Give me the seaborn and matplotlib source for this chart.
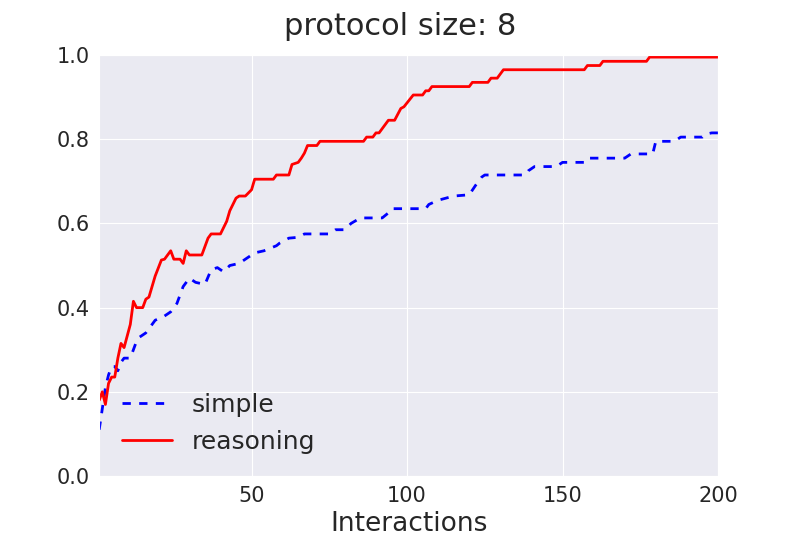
import numpy as np
import pandas as pd
import matplotlib
matplotlib.use("Agg")
import matplotlib.pyplot as plt
import seaborn as sns

# knots of the two accuracy curves (interaction, accuracy)
simple_x = [1, 2, 3, 4, 5, 6, 7, 8, 9, 11, 12, 13, 14, 16, 17, 19, 22, 24, 25, 26,
            28, 30, 32, 35, 37, 39, 41, 43, 46, 47, 50, 51, 54, 58, 59, 62, 65, 67,
            75, 77, 80, 82, 85, 92, 94, 95, 106, 107, 110, 114, 115, 120, 122, 124,
            125, 138, 139, 141, 148, 150, 157, 158, 170, 172, 179, 180, 186, 188,
            195, 196, 198, 200]
simple_y = [0.11, 0.16, 0.21, 0.24, 0.26, 0.26, 0.25, 0.27, 0.28, 0.28, 0.30, 0.32,
            0.33, 0.34, 0.35, 0.37, 0.38, 0.39, 0.40, 0.41, 0.45, 0.47, 0.46, 0.455,
            0.49, 0.495, 0.485, 0.50, 0.505, 0.51, 0.525, 0.53, 0.535, 0.547, 0.553,
            0.565, 0.567, 0.575, 0.575, 0.585, 0.585, 0.60, 0.613, 0.613, 0.625,
            0.635, 0.635, 0.645, 0.655, 0.663, 0.665, 0.668, 0.69, 0.71, 0.715,
            0.715, 0.725, 0.735, 0.735, 0.745, 0.745, 0.755, 0.755, 0.765, 0.765,
            0.795, 0.795, 0.805, 0.805, 0.812, 0.815, 0.815]

reason_x = [1, 2, 3, 4, 5, 6, 7, 8, 9, 11, 12, 13, 15, 16, 17, 19, 21, 22, 24, 25,
            27, 28, 29, 30, 34, 36, 37, 40, 41, 42, 43, 45, 46, 48, 50, 51, 57, 58,
            62, 63, 65, 66, 67, 68, 71, 72, 86, 87, 89, 90, 91, 94, 96, 98, 99, 102,
            105, 106, 107, 108, 120, 121, 126, 127, 129, 131, 157, 158, 162, 163,
            177, 178, 200]
reason_y = [0.18, 0.20, 0.17, 0.22, 0.235, 0.235, 0.28, 0.315, 0.305, 0.36, 0.415,
            0.40, 0.40, 0.42, 0.425, 0.475, 0.513, 0.515, 0.535, 0.515, 0.515, 0.505,
            0.535, 0.525, 0.525, 0.565, 0.575, 0.575, 0.59, 0.605, 0.63, 0.66, 0.665,
            0.665, 0.68, 0.705, 0.705, 0.715, 0.715, 0.74, 0.745, 0.755, 0.767,
            0.785, 0.785, 0.795, 0.795, 0.805, 0.805, 0.815, 0.815, 0.845, 0.845,
            0.873, 0.877, 0.905, 0.905, 0.915, 0.915, 0.925, 0.925, 0.935, 0.935,
            0.945, 0.945, 0.965, 0.965, 0.975, 0.975, 0.985, 0.985, 0.995, 0.995]

sns.set_style("darkgrid")
plt.rcParams['font.family'] = ['DejaVu Sans']
plt.rcParams['lines.scale_dashes'] = False

fig = plt.figure(figsize=(8, 5.5), dpi=100)
ax = fig.add_axes([0.124, 0.1345, 0.7735, 0.7655])

sns.lineplot(x=simple_x, y=simple_y, ax=ax, color='b', linewidth=2,
             linestyle=(0, (6, 6)), label='simple')
sns.lineplot(x=reason_x, y=reason_y, ax=ax, color='r', linewidth=2,
             label='reasoning')

ax.set_xlim(1, 200)
ax.set_ylim(0, 1.0)
ax.set_xticks([50, 100, 150, 200])
ax.set_yticks([0.0, 0.2, 0.4, 0.6, 0.8, 1.0])
ax.tick_params(axis='both', labelsize=15, length=0, pad=7)
ax.set_xlabel('Interactions', fontsize=19, labelpad=4)
# title is centred on the figure, not the axes
fig.suptitle('protocol size: 8', fontsize=22, x=0.5, y=0.978, va='top',
             color='.15')
ax.legend(loc='lower left', frameon=False, fontsize=18)

fig.savefig('out.png', dpi=100)
